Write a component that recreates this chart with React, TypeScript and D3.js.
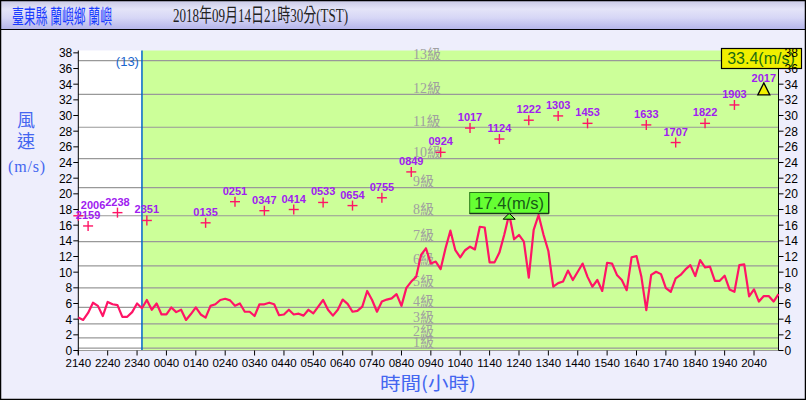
import React from 'react';
import * as d3 from 'd3';

const W = 806;
const H = 400;

// 10-minute mean wind speed (m/s), starting 2018-09-13 21:40
const windSpeed = [
  4.2, 3.9, 4.8, 6.1, 5.7, 4.4, 6.2, 5.9, 5.8, 4.3,
  4.3, 4.9, 6.0, 5.4, 6.45, 5.2, 6.0, 4.6, 4.6, 5.5,
  4.9, 5.2, 3.9, 4.65, 5.5, 4.6, 4.2, 5.7, 5.9, 6.45,
  6.6, 6.4, 5.7, 6.0, 4.95, 4.95, 4.4, 5.9, 5.9, 6.1,
  5.9, 4.5, 4.6, 5.2, 4.6, 4.7, 4.45, 5.2, 4.75, 5.6,
  6.45, 5.2, 4.45, 5.2, 6.5, 5.95, 4.95, 5.05, 5.6, 7.6,
  6.45, 4.95, 6.25, 6.5, 6.65, 7.2, 5.7, 8.0, 8.8, 9.4,
  12.2, 13.05, 11.1, 11.35, 10.4, 13.05, 15.3, 12.8, 11.9, 12.8,
  13.25, 12.9, 15.8, 15.7, 11.25, 11.25, 12.5, 14.8, 17.4, 14.2,
  14.75, 13.9, 9.3, 15.4, 17.3, 14.8, 12.7, 8.15, 8.6, 8.8,
  10.2, 9.0, 10.05, 11.1, 9.4, 8.15, 9.0, 7.6, 11.2, 11.1,
  9.65, 9.0, 7.7, 11.9, 12.05, 9.4, 5.15, 9.65, 10.05, 9.75,
  7.95, 7.5, 9.2, 9.65, 10.35, 10.9, 9.5, 11.55, 10.6, 10.7,
  8.9, 8.9, 9.55, 7.8, 7.5, 10.9, 11.0, 6.9, 7.8, 6.25,
  6.95, 6.95, 6.25, 7.2,
];

// hourly gust: marker hour (day, hour), time-of-gust label, value
const gustDay = [13, 13, 13, 14, 14, 14, 14, 14, 14, 14, 14, 14, 14, 14, 14, 14, 14, 14, 14, 14, 14, 14, 14];
const gustHour = [21, 22, 23, 0, 2, 3, 4, 5, 6, 7, 8, 9, 10, 11, 12, 13, 14, 15, 17, 18, 19, 20, 21];
const gustLabels = ['2006', '2159', '2238', '2351', '0135', '0251', '0347', '0414', '0533', '0654', '0755', '0849', '0924', '1017', '1124', '1222', '1303', '1453', '1633', '1707', '1822', '1903', '2017'];
const gustValues = [17.2, 15.9, 17.6, 16.6, 16.3, 19.0, 17.85, 18.0, 18.9, 18.5, 19.5, 22.8, 25.3, 28.4, 27.0, 29.4, 29.95, 29.0, 28.8, 26.55, 29.0, 31.35, 33.4];

// Beaufort scale lower bounds (m/s) for levels 1..13
const beaufortBounds = [0.3, 1.6, 3.4, 5.5, 8.0, 10.8, 13.9, 17.2, 20.8, 24.5, 28.5, 32.7, 37.0];
const beaufortLabels = ['1級', '2級', '3級', '4級', '5級', '6級', '7級', '8級', '9級', '10級', '11級', '12級', '13級'];

const yTicks = d3.range(0, 39, 2);

const titleLeft = '臺東縣 蘭嶼鄉 蘭嶼';
const titleCenter = '2018年09月14日21時30分(TST)';
const yTitle = ['風', '速', '(m/s)'];
const xTitle = '時間(小時)';
const dayMarkLabel = '(13)';

const t0 = new Date(2018, 8, 13, 21, 40);
const t1 = new Date(2018, 8, 14, 21, 30);
const dayMark = new Date(2018, 8, 13, 23, 50);

const sansFont = '"Liberation Sans", Arial, sans-serif';
const serifFont = '"Liberation Serif", "DejaVu Serif", "Noto Sans CJK TC", serif';
const cjkFont = '"Noto Sans CJK TC", "Liberation Serif", serif';

export default function App() {
  const L = 78.3;
  const R = 778.5;
  const T = 50.5;
  const B = 350.5;
  const x = d3.scaleTime().domain([t0, t1]).range([L, R]);
  const y = d3.scaleLinear().domain([0, 38.3]).range([B, T]);

  const windTimes = windSpeed.map((_, i) => d3.timeMinute.offset(t0, i * 10));
  const line = d3
    .line<number>()
    .x((_, i) => x(windTimes[i]))
    .y((d) => y(d));

  const xTicks = d3.range(0, 24).map((h) => d3.timeHour.offset(t0, h));
  const fmt = d3.timeFormat('%H%M');

  const maxIdx = d3.maxIndex(windSpeed);
  const maxX = x(windTimes[maxIdx]);
  const maxY = y(windSpeed[maxIdx]);

  const gusts = gustValues.map((v, i) => {
    const t = new Date(2018, 8, gustDay[i], gustHour[i], 0);
    const clamped = t < t0;
    return { x: x(clamped ? t0 : t), y: y(v), v, label: gustLabels[i], clamped };
  });
  const maxG = d3.maxIndex(gustValues);

  const xDay = x(dayMark);

  return (
    <svg
      width={W}
      height={H}
      style={{ position: 'absolute', left: 0, top: 0, display: 'block' }}
    >
      <defs>
        <linearGradient id="tb" x1="0" y1="0" x2="0" y2="1">
          <stop offset="0" stopColor="#c9c9e6" />
          <stop offset="0.3" stopColor="#e4e4f8" />
          <stop offset="0.6" stopColor="#d6d6f6" />
          <stop offset="1" stopColor="#b4b4ea" />
        </linearGradient>
      </defs>
      <rect x={0} y={0} width={W} height={H} fill="#eeeefc" />
      <rect x={0.5} y={0.5} width={W - 1} height={29} fill="url(#tb)" stroke="#000" />
      <rect x={0.5} y={0.5} width={W - 1} height={H - 1} fill="none" stroke="#000" strokeWidth={1.5} />

      <text x={12} y={24} fontFamily={cjkFont} fontSize={20} fill="#1a3cff" textLength={100} lengthAdjust="spacingAndGlyphs">
        {titleLeft}
      </text>
      <text x={173} y={22} fontFamily={serifFont} fontSize={19} fill="#222" textLength={175} lengthAdjust="spacingAndGlyphs">
        {titleCenter}
      </text>

      {/* plot background */}
      <rect x={L} y={T} width={xDay - L} height={B - T} fill="#ffffff" />
      <rect x={xDay} y={T} width={R - xDay} height={B - T} fill="#ccff99" />

      {/* Beaufort lines */}
      {beaufortBounds.map((b, i) => (
        <g key={'bf' + i}>
          <line x1={L} x2={R} y1={y(b)} y2={y(b)} stroke="#999" strokeWidth={1.2} />
          <text x={413} y={y(b) - 1.5} fontFamily={serifFont} fontSize={14} fill="#a0a0a0">
            {beaufortLabels[i]}
          </text>
        </g>
      ))}

      {/* day change line */}
      <line x1={xDay} x2={xDay} y1={T} y2={B} stroke="#0066cc" strokeWidth={1.5} />
      <text x={xDay - 3} y={66} textAnchor="end" fontFamily={sansFont} fontSize={13} fill="#1a66cc">
        {dayMarkLabel}
      </text>

      {/* axes */}
      <line x1={L} x2={R} y1={B} y2={B} stroke="#999" strokeWidth={1.2} />
      <line x1={L} x2={L} y1={T} y2={B + 4} stroke="#000" />
      <line x1={R} x2={R} y1={T} y2={B} stroke="#000" />
      {yTicks.map((v) => (
        <g key={'yt' + v}>
          <line x1={L - 5} x2={L} y1={y(v)} y2={y(v)} stroke="#000" />
          <text x={L - 6} y={y(v) + 4.5} textAnchor="end" fontFamily={sansFont} fontSize={12} fill="#000">
            {v}
          </text>
          <line x1={R} x2={R + 5} y1={y(v)} y2={y(v)} stroke="#000" />
        </g>
      ))}
      {xTicks.map((t, i) => (
        <g key={'xt' + i}>
          <line x1={x(t)} x2={x(t)} y1={B} y2={B + 5} stroke="#000" />
          <text x={x(t)} y={367} textAnchor="middle" fontFamily={sansFont} fontSize={11.5} fill="#000">
            {fmt(t)}
          </text>
        </g>
      ))}

      {/* axis titles */}
      <text x={26} y={127} textAnchor="middle" fontFamily={cjkFont} fontSize={18} fill="#4466f0">
        {yTitle[0]}
      </text>
      <text x={26} y={148} textAnchor="middle" fontFamily={cjkFont} fontSize={18} fill="#4466f0">
        {yTitle[1]}
      </text>
      <text x={8} y={172} fontFamily={serifFont} fontSize={16} fill="#4466f0" textLength={37} lengthAdjust="spacing">
        {yTitle[2]}
      </text>
      <text x={380} y={390} fontFamily={cjkFont} fontSize={18} fill="#4466f0" textLength={96} lengthAdjust="spacingAndGlyphs">
        {xTitle}
      </text>

      {/* wind line */}
      <path d={line(windSpeed) || ''} fill="none" stroke="#ff1466" strokeWidth={2.2} strokeLinejoin="round" />

      {/* gust markers */}
      {gusts.map((g, i) => (
        <g key={'g' + i}>
          {i === maxG ? (
            <path
              d={`M${g.x},${g.y - 6}L${g.x + 6},${g.y + 6}L${g.x - 6},${g.y + 6}Z`}
              fill="#f0f000"
              stroke="#000"
              strokeWidth={1.3}
            />
          ) : (
            <g stroke="#ff1466" strokeWidth={1.4}>
              <line x1={g.x - 5} x2={g.x + 5} y1={g.y} y2={g.y} />
              <line x1={g.x} x2={g.x} y1={g.y - 5} y2={g.y + 5} />
            </g>
          )}
          <text
            x={g.clamped ? g.x + 2.5 : g.x}
            y={i === maxG ? g.y - 6.5 : g.y - 7}
            textAnchor={g.clamped ? 'start' : 'middle'}
            fontFamily={sansFont}
            fontWeight="bold"
            fontSize={11}
            fill="#a020f0"
          >
            {g.label}
          </text>
        </g>
      ))}

      {/* max wind marker */}
      <path
        d={`M${maxX},${maxY - 1}L${maxX + 6},${maxY + 5}L${maxX - 6},${maxY + 5}Z`}
        fill="#66ff33"
        stroke="#000"
        strokeWidth={1}
      />
      <rect x={maxX - 39.5} y={192.5} width={79} height={21} fill="#66ff33" stroke="#2a7a1a" strokeWidth={1} />
      <line x1={maxX - 39.5} x2={maxX + 39.5} y1={213.5} y2={213.5} stroke="#1a3a1a" strokeWidth={1.3} />
      <line x1={maxX + 39.5} x2={maxX + 39.5} y1={192.5} y2={213.5} stroke="#1a3a1a" strokeWidth={1.3} />
      <text x={maxX} y={209} textAnchor="middle" fontFamily={sansFont} fontSize={16.5} fill="#175a17">
        {`${windSpeed[maxIdx].toFixed(1)}(m/s)`}
      </text>

      {/* max gust box */}
      <rect x={721.5} y={48.5} width={80} height={20} fill="#f0f000" stroke="#000" strokeWidth={1.2} />
      <text x={761} y={64} textAnchor="middle" fontFamily={sansFont} fontSize={16} fill="#1a6a10">
        {`${gustValues[maxG].toFixed(1)}(m/s)`}
      </text>

      {/* right axis labels on top */}
      {yTicks.map((v) => (
        <text key={'yr' + v} x={R + 6} y={y(v) + 4.5} fontFamily={sansFont} fontSize={12} fill="#000">
          {v}
        </text>
      ))}
    </svg>
  );
}
